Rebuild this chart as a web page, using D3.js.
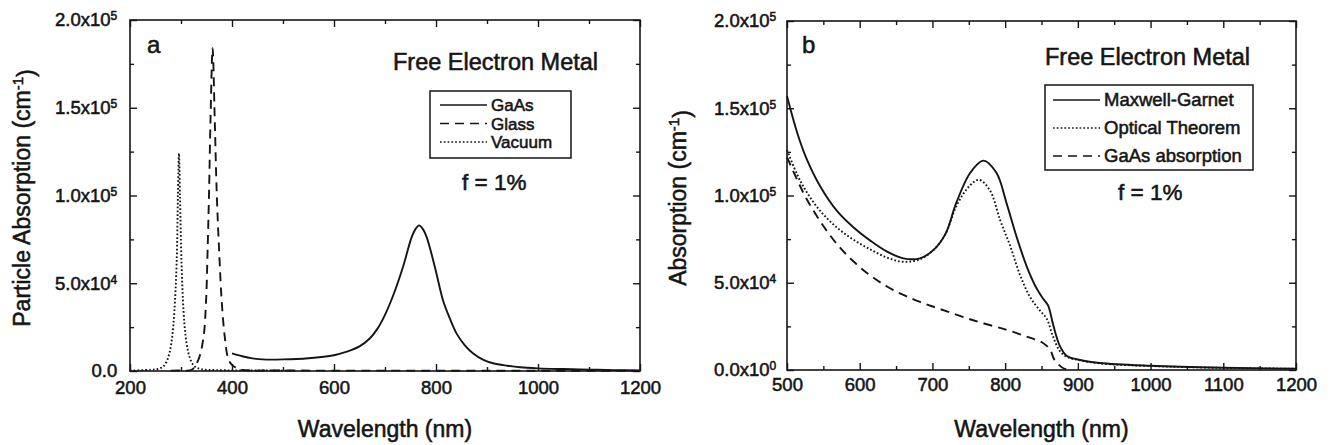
<!DOCTYPE html>
<html>
<head>
<meta charset="utf-8">
<script src="https://cdn.jsdelivr.net/npm/d3@7"></script>
<style>
  body { margin: 0; background: #fff; }
  svg text { font-family: "Liberation Sans", Arial, Helvetica, sans-serif; fill: #151515; stroke: #151515; stroke-width: 0.55px; }
</style>
</head>
<body>
<div id="root"></div>
<script>
// ---- panel a : particle absorption, [wavelength nm, absorption cm^-1]
const gaasA = [
  [400, 1.0e4], [420, 8.4e3], [440, 7.2e3], [460, 6.6e3], [500, 6.6e3], [550, 7.3e3],
  [600, 9.0e3], [625, 1.1e4], [650, 1.4e4], [670, 1.85e4], [685, 2.4e4], [700, 3.2e4],
  [716, 4.3e4], [736, 6.0e4], [752, 7.6e4], [760, 8.1e4], [767, 8.3e4], [774, 8.1e4],
  [782, 7.6e4], [798, 5.9e4], [814, 4.0e4], [827, 3.0e4], [841, 2.1e4], [857, 1.45e4],
  [873, 1.0e4], [892, 6.5e3], [912, 4.4e3], [940, 3.0e3], [965, 2.1e3], [1000, 1.5e3],
  [1050, 1.1e3], [1100, 800], [1150, 500], [1200, 300]
];
const glassA = [
  [280, 200], [300, 300], [321, 700], [334, 6.3e3], [344, 1.9e4], [349, 3.9e4],
  [352, 6.7e4], [355, 1.02e5], [358, 1.45e5], [362, 1.84e5], [366, 1.45e5], [370, 1.02e5],
  [375, 6.7e4], [380, 3.9e4], [386, 1.9e4], [393, 6.5e3], [400, 3.5e3], [410, 1.5e3],
  [420, 600], [500, 300], [700, 200], [1000, 150], [1200, 100]
];
const vacuumA = [
  [200, 200], [240, 700], [255, 1.2e3], [265, 2.5e3], [272, 5.5e3], [278, 1.1e4],
  [283, 2.0e4], [287, 3.4e4], [291.5, 6.2e4], [294, 1.0e5], [296, 1.24e5], [298, 1.0e5],
  [301, 6.2e4], [305, 3.4e4], [309, 2.0e4], [314, 1.1e4], [320, 5.5e3], [327, 2.5e3],
  [340, 1.0e3], [370, 500], [450, 300], [520, 200]
];

// ---- panel b : absorption, [wavelength nm, absorption cm^-1]
const maxwellB = [
  [500, 1.57e5], [514, 1.36e5], [527, 1.21e5], [546, 1.05e5], [569, 9.1e4], [592, 8.15e4],
  [615, 7.4e4], [637, 6.8e4], [660, 6.4e4], [683, 6.4e4], [702, 6.9e4], [718, 7.8e4],
  [733, 9.6e4], [752, 1.13e5], [770, 1.2e5], [788, 1.13e5], [802, 9.55e4], [816, 7.6e4],
  [830, 5.9e4], [843, 4.7e4], [852, 4.1e4], [859, 3.7e4], [866, 2.6e4], [875, 1.4e4],
  [885, 8.0e3], [900, 6.0e3], [930, 4.0e3], [1000, 2.4e3], [1100, 1.3e3], [1200, 800]
];
const opticalB = [
  [500, 1.26e5], [514, 1.12e5], [527, 1.02e5], [546, 9.1e4], [569, 8.15e4], [592, 7.45e4],
  [615, 6.9e4], [637, 6.45e4], [660, 6.2e4], [683, 6.35e4], [702, 6.9e4], [718, 7.8e4],
  [733, 9.4e4], [750, 1.05e5], [764, 1.09e5], [779, 1.03e5], [793, 8.6e4], [807, 7.1e4],
  [820, 5.5e4], [834, 4.2e4], [848, 3.4e4], [857, 2.95e4], [866, 1.9e4], [875, 1.1e4],
  [885, 7.5e3], [900, 5.8e3], [930, 3.8e3], [1000, 2.3e3], [1100, 1.2e3], [1200, 700]
];
const gaasAbsB = [
  [500, 1.22e5], [514, 1.09e5], [527, 9.8e4], [546, 8.5e4], [569, 7.2e4], [592, 6.2e4],
  [615, 5.4e4], [637, 4.8e4], [660, 4.3e4], [683, 3.9e4], [710, 3.5e4], [756, 2.85e4],
  [802, 2.3e4], [834, 1.85e4], [852, 1.55e4], [862, 1.15e4], [868, 5.7e3], [880, 1.0e3],
  [890, 0]
];

// ---- ticks & labels
const xMajorA = [200, 400, 600, 800, 1000, 1200];
const xMinorA = [300, 500, 700, 900, 1100];
const xMajorB = [500, 600, 700, 800, 900, 1000, 1100, 1200];
const xMinorB = [550, 650, 750, 850, 950, 1050, 1150];
const yMajor = [0, 5e4, 1e5, 1.5e5, 2e5];
const yMinor = [2.5e4, 7.5e4, 1.25e5, 1.75e5];
const yMantA = ["0.0", "5.0x10", "1.0x10", "1.5x10", "2.0x10"];
const yExpA = ["", "4", "5", "5", "5"];
const yMantB = ["0.0x10", "5.0x10", "1.0x10", "1.5x10", "2.0x10"];
const yExpB = ["0", "4", "5", "5", "5"];
const legendA = ["GaAs", "Glass", "Vacuum"];
const legendB = ["Maxwell-Garnet", "Optical Theorem", "GaAs absorption"];

const width = 1333;
const height = 445;
const ink = "#151515";
const dashes = { solid: null, dashed: "9,6", dotted: "1.7,2.1" };

const svg = d3
  .select("#root")
  .append("svg")
  .attr("width", width)
  .attr("height", height);

function drawPanel(p) {
  const x = d3.scaleLinear().domain(p.xDomain).range([p.left, p.right]);
  const y = d3.scaleLinear().domain([0, 2e5]).range([p.bottom, p.top]);
  const g = svg.append("g");

  // ticks, all pointing inward
  const tickAxis = (axis, scale, vals, size, tr, withLabels) => {
    const a = axis(scale).tickValues(vals).tickSize(-size).tickPadding(p.pad);
    a.tickFormat(withLabels ? d3.format("d") : "");
    const ga = g.append("g").attr("transform", tr).call(a);
    ga.select(".domain").remove();
    ga.selectAll("line").attr("stroke", ink).attr("stroke-width", 1.4);
    ga.selectAll("text").attr("font-size", 18.5).attr("fill", ink);
    return ga;
  };
  tickAxis(d3.axisBottom, x, p.xMajor, 7, `translate(0,${p.bottom})`, true);
  tickAxis(d3.axisBottom, x, p.xMinor, 4, `translate(0,${p.bottom})`, false);
  tickAxis(d3.axisTop, x, p.xMajor, 7, `translate(0,${p.top})`, false);
  tickAxis(d3.axisTop, x, p.xMinor, 4, `translate(0,${p.top})`, false);
  tickAxis(d3.axisRight, y, yMajor, 7, `translate(${p.right},0)`, false);
  tickAxis(d3.axisRight, y, yMinor, 4, `translate(${p.right},0)`, false);
  tickAxis(d3.axisLeft, y, yMinor, 4, `translate(${p.left},0)`, false);
  const yl = tickAxis(d3.axisLeft, y, yMajor, 7, `translate(${p.left},0)`, true);
  yl.selectAll(".tick text")
    .attr("dx", "-0.15em")
    .each(function (d, i) {
      const t = d3.select(this).text(null);
      t.append("tspan").text(p.yMant[i]);
      if (p.yExp[i]) {
        t.append("tspan").attr("dy", "-0.5em").attr("font-size", 12).text(p.yExp[i]);
      }
    });

  // frame
  g.append("rect")
    .attr("x", p.left)
    .attr("y", p.top)
    .attr("width", p.right - p.left)
    .attr("height", p.bottom - p.top)
    .attr("fill", "none")
    .attr("stroke", ink)
    .attr("stroke-width", 1.6);

  // curves
  const line = d3
    .line()
    .x((d) => x(d[0]))
    .y((d) => y(d[1]))
    .curve(d3.curveCatmullRom.alpha(0.5));
  p.series.forEach((s) => {
    g.append("path")
      .datum(s.data)
      .attr("d", line)
      .attr("fill", "none")
      .attr("stroke", ink)
      .attr("stroke-width", 1.9)
      .attr("stroke-dasharray", dashes[s.style]);
  });

  // texts
  g.append("text").attr("x", p.tag[1]).attr("y", p.tag[2]).attr("font-size", 24).text(p.tag[0]);
  g.append("text")
    .attr("x", p.title[0]).attr("y", p.title[1])
    .attr("font-size", 23.5)
    .text("Free Electron Metal");
  g.append("text")
    .attr("x", p.ftext[0]).attr("y", p.ftext[1])
    .attr("font-size", 22.5)
    .text("f = 1%");

  // legend
  const lg = p.legend;
  g.append("rect")
    .attr("x", lg.x0).attr("y", lg.y0)
    .attr("width", lg.x1 - lg.x0).attr("height", lg.y1 - lg.y0)
    .attr("fill", "#fff")
    .attr("stroke", ink)
    .attr("stroke-width", 1.5);
  p.series.forEach((s, i) => {
    const by = lg.rows[i];
    g.append("line")
      .attr("x1", lg.lx0).attr("x2", lg.lx1)
      .attr("y1", by - 6).attr("y2", by - 6)
      .attr("stroke", ink)
      .attr("stroke-width", 1.6)
      .attr("stroke-dasharray", dashes[s.style]);
    g.append("text")
      .attr("x", lg.tx).attr("y", by)
      .attr("font-size", lg.fs)
      .text(p.legendText[i]);
  });

  // axis titles
  g.append("text")
    .attr("x", (p.left + p.right) / 2).attr("y", 437)
    .attr("text-anchor", "middle")
    .attr("font-size", 23)
    .text("Wavelength (nm)");
  const yt = g.append("text")
    .attr("transform", `translate(${p.ytitleX},198) rotate(-90)`)
    .attr("text-anchor", "middle")
    .attr("font-size", 23);
  yt.append("tspan").text(p.ytitle + " (cm");
  yt.append("tspan").attr("dy", "-0.45em").attr("font-size", 15).text("-1");
  yt.append("tspan").attr("dy", "0.45em").text(")");
}

drawPanel({
  left: 130, right: 640, top: 20, bottom: 371, pad: 10,
  xDomain: [200, 1200], xMajor: xMajorA, xMinor: xMinorA,
  yMant: yMantA, yExp: yExpA,
  series: [
    { data: gaasA, style: "solid" },
    { data: glassA, style: "dashed" },
    { data: vacuumA, style: "dotted" }
  ],
  legendText: legendA,
  tag: ["a", 147, 53],
  title: [393, 70],
  ftext: [462, 190],
  legend: { x0: 430, x1: 571, y0: 91, y1: 158, lx0: 440, lx1: 487, tx: 491, fs: 17, rows: [111, 129.5, 148] },
  ytitle: "Particle Absorption",
  ytitleX: 30
});

drawPanel({
  left: 787, right: 1296, top: 21, bottom: 370, pad: 8,
  xDomain: [500, 1200], xMajor: xMajorB, xMinor: xMinorB,
  yMant: yMantB, yExp: yExpB,
  series: [
    { data: maxwellB, style: "solid" },
    { data: opticalB, style: "dotted" },
    { data: gaasAbsB, style: "dashed" }
  ],
  legendText: legendB,
  tag: ["b", 802, 53],
  title: [1045, 65],
  ftext: [1118, 200],
  legend: { x0: 1045, x1: 1253, y0: 85, y1: 170, lx0: 1053, lx1: 1100, tx: 1104, fs: 18.5, rows: [106, 134, 162] },
  ytitle: "Absorption",
  ytitleX: 686
});
</script>
</body>
</html>
